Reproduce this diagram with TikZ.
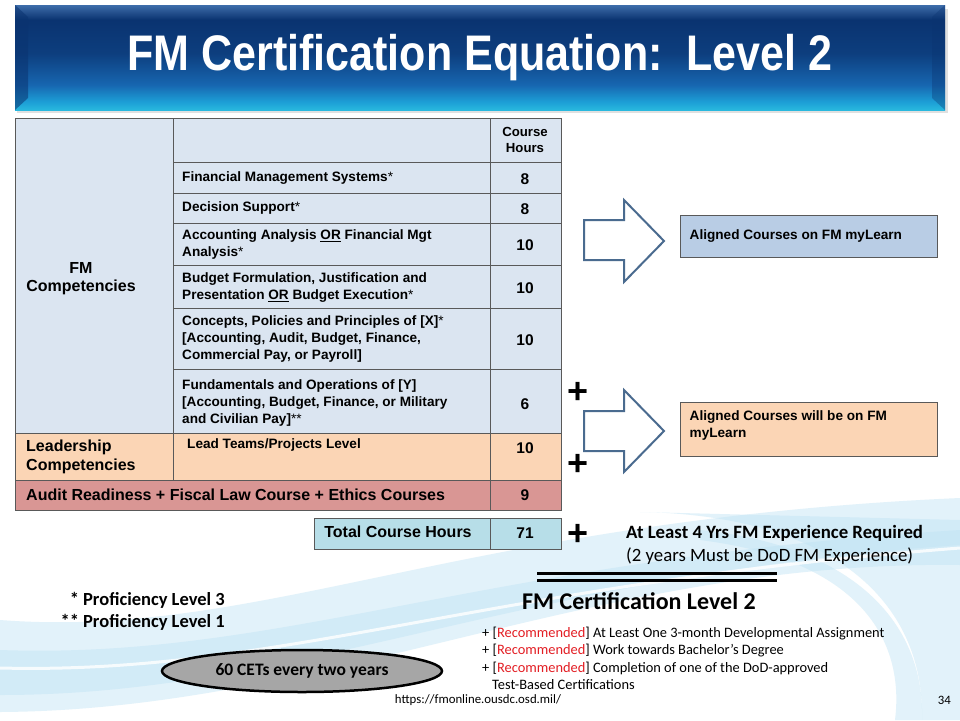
\documentclass[tikz,border=0pt]{standalone}
\usepackage{fontspec}
\setmainfont{Liberation Sans}
\newfontfamily\calfont{Carlito}
\newfontfamily\titlefont[FakeStretch=0.86]{Liberation Sans}
\usetikzlibrary{positioning, shapes.geometric}
\definecolor{fmblue}{HTML}{DBE5F1}
\definecolor{leadorange}{HTML}{FBD5B5}
\definecolor{auditred}{HTML}{D99694}
\definecolor{totalblue}{HTML}{B7DEE8}
\definecolor{alignblue}{HTML}{B9CDE5}
\definecolor{arrowline}{HTML}{4A6B8F}
\definecolor{gridgray}{HTML}{595959}
\definecolor{recred}{HTML}{E31E24}
\definecolor{swooshblue}{HTML}{BFE3F4}
\definecolor{bannerbevel}{HTML}{3E6DAA}
\definecolor{bannertop}{HTML}{0A3370}
\definecolor{bannerhigh}{HTML}{0D3E7E}
\definecolor{bannermid}{HTML}{1766B0}
\definecolor{bannerlow}{HTML}{1C9ED6}
\definecolor{bannerbase}{HTML}{28B8DE}
\pgfdeclareverticalshading{banner}{100bp}{color(0bp)=(bannerbase); color(25bp)=(bannerbase); color(29bp)=(bannerlow); color(37bp)=(bannermid); color(52bp)=(bannerhigh); color(68bp)=(bannertop); color(75bp)=(bannerbevel); color(100bp)=(bannerbevel)}
\newcommand{\rec}{+ [\textcolor{recred}{Recommended}]}
\newcommand{\lvlmark}{{\mdseries*}}

\begin{document}
\begin{tikzpicture}[x=1pt,y=-1pt,
  cell/.style={font=\bfseries\fontsize{13.6}{17}\selectfont, align=left, anchor=west, inner sep=0pt},
  hrs/.style={font=\bfseries\fontsize{15.5}{17}\selectfont, inner sep=0pt},
  grid/.style={draw=gridgray, line width=0.8pt},
  swoosh/.style={fill=swooshblue, opacity=0.45},
  bigarrow/.style={draw=arrowline, line width=2pt, fill=white, line join=miter},
  alignbox/.style={draw=gridgray, line width=1pt, minimum width=257, minimum height=42, inner sep=0pt},
  boxtext/.style={font=\bfseries\fontsize{13.6}{17}\selectfont, align=left, inner sep=0pt},
  plus/.style={font=\bfseries\fontsize{36}{36}\selectfont, inner sep=0pt},
  cal/.style={font=\calfont\fontsize{18.8}{20}\selectfont, anchor=west, inner sep=0pt},
  recline/.style={font=\calfont\fontsize{14.4}{16}\selectfont, anchor=west, inner sep=0pt},
  prof/.style={font=\calfont\bfseries\fontsize{18.5}{20}\selectfont, anchor=east, inner sep=0pt}]
\useasboundingbox (0,0) rectangle (960,720);
\fill[white] (0,0) rectangle (960,720);
% background swooshes
\fill[swoosh] (0,620) .. controls (260,640) and (460,520) .. (960,498) -- (960,565) .. controls (600,560) and (330,710) .. (0,712) -- cycle;
\fill[swoosh] (0,650) .. controls (280,660) and (480,560) .. (960,530) -- (960,545) .. controls (520,575) and (300,695) .. (0,695) -- cycle;
\fill[swoosh] (640,512) .. controls (830,515) and (925,600) .. (922,720) -- (960,720) -- (960,520) -- cycle;
\fill[swoosh] (700,540) .. controls (860,560) and (905,640) .. (895,720) -- (922,720) .. controls (925,620) and (850,545) .. (700,530) -- cycle;
\draw[white, line width=3pt, opacity=0.8] (0,668) .. controls (280,675) and (480,585) .. (960,548);
% title banner
\fill[black!12] (17,9) rectangle (948,113);
\shade[shading=banner] (15,5) rectangle (945,110);
\fill[bannertop, opacity=0.55] (15,5) -- (28,17) -- (28,98) -- (15,110) -- cycle;
\fill[bannertop, opacity=0.35] (945,5) -- (932,17) -- (932,98) -- (945,110) -- cycle;
\node[text=white, font=\titlefont\bfseries\fontsize{50}{50}\selectfont] (title) at (480,58) {FM Certification Equation:\ \ Level 2};
% table fills
\fill[fmblue] (15,118) rectangle (561,433);
\fill[leadorange] (15,433) rectangle (561,480);
\fill[auditred] (15,480) rectangle (561,510);
\fill[totalblue] (314,518) rectangle (561,549);
% table grid
\draw[grid] (15,118) rectangle (561,510);
\draw[grid] (173,118) -- (173,480);
\draw[grid] (490,118) -- (490,510);
\foreach \y in {162,193,223,265,308,369} \draw[grid] (173,\y) -- (561,\y);
\foreach \y in {433,480} \draw[grid] (15,\y) -- (561,\y);
\draw[grid] (314,518) rectangle (561,549);
\draw[grid] (490,518) -- (490,549);
% table texts
\node[font=\bfseries\fontsize{13.2}{16}\selectfont, align=center, inner sep=0pt] (hours) at (525,140) {Course\\Hours};
\node[font=\bfseries\fontsize{16}{18}\selectfont, align=center, inner sep=0pt] (fmcomp) at (81,279) {FM\\Competencies};
\node[cell] (fms) at (182,178) {Financial Management Systems\lvlmark};
\node[cell] (ds) at (182,208) {Decision Support\lvlmark};
\node[cell] (aa) at (182,244.5) {Accounting Analysis \underline{OR} Financial Mgt\\Analysis\lvlmark};
\node[cell] (bf) at (182,287.5) {Budget Formulation, Justification and\\Presentation \underline{OR} Budget Execution\lvlmark};
\node[cell] (cpp) at (182,339) {Concepts, Policies and Principles of [X]\lvlmark\\{}[Accounting, Audit, Budget, Finance,\\Commercial Pay,\ or Payroll]};
\node[cell] (fo) at (182,403) {Fundamentals and Operations of [Y]\\{}[Accounting, Budget, Finance, or Military\\and Civilian Pay]\lvlmark\lvlmark};
\node[cell] (lt) at (187,445) {Lead Teams/Projects Level};
\node[font=\bfseries\fontsize{16}{19}\selectfont, align=left, anchor=west, inner sep=0pt] (lead) at (26,456.5) {Leadership\\Competencies};
\node[font=\bfseries\fontsize{16}{18}\selectfont, anchor=west, inner sep=0pt] (audit) at (26,495) {Audit Readiness + Fiscal Law Course + Ethics Courses};
\node[hrs] (h1) at (525,179) {8};
\node[hrs] (h2) at (525,209) {8};
\node[hrs] (h3) at (525,245) {10};
\node[hrs] (h4) at (525,288) {10};
\node[hrs] (h5) at (525,340) {10};
\node[hrs] (h6) at (525,404) {6};
\node[hrs] (h7) at (525,448) {10};
\node[hrs] (h8) at (525,495) {9};
\node[font=\bfseries\fontsize{16}{18}\selectfont, inner sep=0pt] (total) at (398,532) {Total Course Hours};
\node[hrs] (h71) at (525,533) {71};
% arrows and aligned boxes
\draw[bigarrow] (584,220) -- (624,220) -- (624,200) -- (664,241) -- (624,282) -- (624,260) -- (584,260) -- cycle;
\draw[bigarrow] (584,411) -- (624,411) -- (624,390) -- (664,431) -- (624,472) -- (624,451) -- (584,451) -- cycle;
\node[alignbox, fill=alignblue] (mylearn) at (808.5,236) {};
\node[boxtext, anchor=west] (mylearntext) at ([xshift=10pt]mylearn.west) {Aligned Courses on FM myLearn};
\node[alignbox, fill=leadorange, minimum height=54] (willbe) at (808.5,429) {};
\node[boxtext, anchor=north west, below right=9pt and 10pt of willbe.north west] (willbetext) {Aligned Courses will be on FM\\myLearn};
\node[plus] (p1) at (578,393) {+};
\node[plus] (p2) at (578,465) {+};
\node[plus] (p3) at (578,535) {+};
% experience and result
\node[cal, font=\calfont\bfseries\fontsize{18.8}{20}\selectfont] (exp) at (626,533) {At Least 4 Yrs FM Experience Required};
\node[cal] (dod) at (626,556) {(2 years Must be DoD FM Experience)};
\draw[line width=3pt] (537,573) -- (777,573);
\draw[line width=3pt] (537,580) -- (777,580);
\node[font=\calfont\bfseries\fontsize{24}{26}\selectfont, inner sep=0pt] (cert) at (639,601) {FM Certification Level 2};
\node[recline] (r1) at (482,634) {\rec{} At Least One 3-month Developmental Assignment};
\node[recline] (r2) at (482,651) {\rec{} Work towards Bachelor’s Degree};
\node[recline] (r3) at (482,668) {\rec{} Completion of one of the DoD-approved};
\node[recline] (r4) at (492,685) {Test-Based Certifications};
% footnotes
\node[prof] (lvl3) at (225,600) {* Proficiency Level 3};
\node[prof] (lvl1) at (225,622) {** Proficiency Level 1};
\node[ellipse, draw=black, line width=2.5pt, fill=black!35, minimum width=280, minimum height=42, inner sep=0pt,
  font=\calfont\bfseries\fontsize{17.5}{19}\selectfont] (cets) at (302,671) {60 CETs every two years};
\node[font=\calfont\fontsize{12.8}{14}\selectfont, inner sep=0pt] (url) at (478,700) {https://fmonline.ousdc.osd.mil/};
\node[font=\calfont\fontsize{12.8}{14}\selectfont, anchor=east, inner sep=0pt] (page) at (951,700) {34};
\end{tikzpicture}
\end{document}
